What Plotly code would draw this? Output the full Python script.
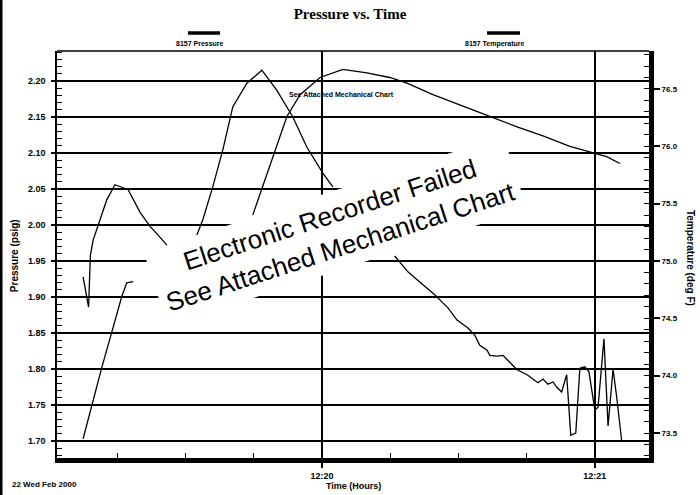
import pandas as pd
import plotly.graph_objects as go

# ---------------- data ----------------
BASE = "2000-02-22 12:19:00"
# seconds after 12:19:00 ; None marks the part hidden under the stamp
pressure_sec = [7.5, 8.7, 9.1, 9.7, 11.2, 12.7, 14.5, 16.0, 17.4, 20.0, 22.2, 23.7, 26.2,
                None,
                32.5, 33.8, 36.0, 38.2, 40.4, 43.5, 46.8, 50.1, 53.6, 56.7, 60.2, 62.4,
                None,
                76.0, 78.9, 81.5, 84.8, 87.7, 89.7, 92.1, 93.6, 94.7, 96.3, 96.9, 98.5,
                99.8, 100.9, 102.9, 105.1, 107.5, 108.6, 109.7, 110.8, 111.6, 112.7,
                113.8, 114.7, 115.8, 116.7, 117.8, 118.7, 120.0, 120.7, 122.0, 122.9,
                124.0, 124.8, 125.9]
pressure_psig = [1.928, 1.886, 1.958, 1.979, 2.007, 2.035, 2.056, 2.052, 2.049, 2.018, 1.998, 1.988, 1.970,
                 None,
                 1.986, 2.007, 2.053, 2.104, 2.164, 2.197, 2.215, 2.187, 2.150, 2.108, 2.072, 2.053,
                 None,
                 1.957, 1.935, 1.921, 1.903, 1.885, 1.868, 1.857, 1.847, 1.833, 1.826, 1.819, 1.818,
                 1.819, 1.812, 1.799, 1.792, 1.781, 1.786, 1.779, 1.782, 1.775, 1.768,
                 1.792, 1.708, 1.711, 1.801, 1.803, 1.796, 1.743, 1.747, 1.842, 1.721,
                 1.800, 1.761, 1.700]

temp_sec = [7.5, 9.5, 11.6, 13.8, 16.0, 17.1, 18.5,
            None,
            44.8, 47.0, 49.2, 52.3, 55.2, 59.6, 64.6, 69.9, 74.9, 78.7, 84.4, 91.9,
            96.9, 102.9, 108.6, 114.5, 119.6, 122.6, 125.5]
temp_degF = [73.45, 73.76, 74.07, 74.38, 74.69, 74.81, 74.82,
             None,
             75.40, 75.65, 75.90, 76.26, 76.45, 76.60, 76.67, 76.64, 76.60, 76.55, 76.45, 76.34,
             76.26, 76.17, 76.09, 76.00, 75.94, 75.91, 75.85]

pressure_ticks = [1.70, 1.75, 1.80, 1.85, 1.90, 1.95, 2.00, 2.05, 2.10, 2.15, 2.20]
temp_ticks = [73.5, 74.0, 74.5, 75.0, 75.5, 76.0, 76.5]
time_ticks = ["2000-02-22 12:20:00", "2000-02-22 12:21:00"]
time_tick_labels = ["12:20", "12:21"]

base = pd.Timestamp(BASE)


def to_time(secs):
    return [None if s is None else base + pd.Timedelta(seconds=s) for s in secs]


# ---------------- figure ----------------
SANS = "Liberation Sans, Arial"
SERIF = "Liberation Serif, Times New Roman"
tickfont = dict(family=SANS, size=9, color="black", weight="bold")

fig = go.Figure()
fig.add_trace(go.Scatter(x=to_time(pressure_sec), y=pressure_psig, mode="lines",
                         name="8157 Pressure", connectgaps=False,
                         line=dict(color="black", width=1.3)))
fig.add_trace(go.Scatter(x=to_time(temp_sec), y=temp_degF, mode="lines",
                         name="8157 Temperature", connectgaps=False, yaxis="y2",
                         line=dict(color="black", width=1.3)))

x_lo = base + pd.Timedelta(seconds=1.76)
x_hi = base + pd.Timedelta(seconds=131.9)

fig.update_layout(
    width=700, height=495,
    margin=dict(l=57, r=51, t=51, b=37),
    paper_bgcolor="white", plot_bgcolor="white",
    showlegend=False,
    title=dict(text="Pressure vs. Time", x=0.5, xref="container", xanchor="center",
               y=1 - 14 / 495, yref="container", yanchor="middle",
               font=dict(family=SERIF, size=15, color="black", weight="bold")),
    xaxis=dict(type="date", range=[x_lo, x_hi],
               tickvals=time_ticks, ticktext=time_tick_labels,
               showgrid=True, gridcolor="black", gridwidth=1.7,
               showline=True, linecolor="black", linewidth=5,
               ticks="outside", ticklen=5, tickwidth=1.5, tickcolor="black",
               tickfont=tickfont, zeroline=False,
               minor=dict(dtick=15000, tick0="2000-02-22 12:20:00", ticks="inside",
                          ticklen=5, tickwidth=1.2, tickcolor="black", showgrid=False)),
    yaxis=dict(range=[1.6764, 2.2417], tickvals=pressure_ticks, tickformat=".2f",
               showgrid=True, gridcolor="black", gridwidth=1.7,
               showline=True, linecolor="black", linewidth=1.5,
               ticks="outside", ticklen=4, tickwidth=1.5, tickcolor="black",
               tickfont=tickfont, zeroline=False, ticklabelstandoff=4,
               minor=dict(dtick=0.01, tick0=1.70, ticks="inside", ticklen=5,
                          tickwidth=1.2, tickcolor="black", showgrid=False)),
    yaxis2=dict(range=[73.282, 76.831], tickvals=temp_ticks, tickformat=".1f",
                overlaying="y", side="right", showgrid=False,
                showline=True, linecolor="black", linewidth=5,
                ticks="outside", ticklen=6, tickwidth=1.5, tickcolor="black",
                tickfont=dict(family=SANS, size=8, color="black", weight="bold"),
                zeroline=False,
                minor=dict(dtick=0.1, tick0=73.5, ticks="inside", ticklen=5,
                           tickwidth=1.2, tickcolor="black", showgrid=False)),
)

# frame top line, scanner border
fig.add_shape(type="line", xref="paper", yref="paper", x0=0, x1=1, y0=1, y1=1,
              line=dict(color="black", width=1.5))
fig.add_shape(type="line", xref="paper", yref="paper", x0=-0.0946, x1=-0.0946,
              y0=-0.095, y1=1.13, line=dict(color="black", width=3))

# legend (line above label)
legend_items = [("8157 Pressure", 0.2213, 0.2753, 0.2416),
                ("8157 Temperature", 0.7264, 0.7821, 0.7399)]
for label, lx0, lx1, tx in legend_items:
    fig.add_shape(type="line", xref="paper", yref="paper", x0=lx0, x1=lx1,
                  y0=1.0442, y1=1.0442, line=dict(color="black", width=3.5))
    fig.add_annotation(text=label, xref="paper", yref="paper", x=tx, y=1.0172,
                       xanchor="center", yanchor="middle", showarrow=False,
                       font=dict(family=SANS, size=7, color="black", weight="bold"))

# axis titles and footer texts
fig.add_annotation(text="Pressure (psig)", xref="paper", yref="paper", x=-0.0726, y=0.496,
                   textangle=-90, showarrow=False, xanchor="center", yanchor="middle",
                   font=dict(family=SANS, size=10, color="black", weight="bold"))
fig.add_annotation(text="Temperature (deg F)", xref="paper", yref="paper", x=1.069, y=0.492,
                   textangle=90, showarrow=False, xanchor="center", yanchor="middle",
                   font=dict(family=SANS, size=10, color="black", weight="bold"))
fig.add_annotation(text="22 Wed Feb 2000", xref="paper", yref="paper", x=-0.0794, y=-0.064,
                   showarrow=False, xanchor="left", yanchor="middle",
                   font=dict(family=SANS, size=8, color="black", weight="bold"))
fig.add_annotation(text="Time (Hours)", xref="paper", yref="paper", x=0.5, y=-0.07,
                   showarrow=False, xanchor="center", yanchor="middle",
                   font=dict(family=SANS, size=9, color="black", weight="bold"))

# small note and the big stamp
fig.add_annotation(text="See Attached Mechanical Chart", xref="paper", yref="paper",
                   x=0.4814, y=0.8943, showarrow=False, xanchor="center", yanchor="middle",
                   font=dict(family=SANS, size=7, color="black", weight="bold"))
fig.add_annotation(text="Electronic Recorder Failed<br>See Attached Mechanical Chart",
                   xref="paper", yref="paper", x=0.4696, y=0.5577, showarrow=False,
                   xanchor="center", yanchor="middle", textangle=-18, align="center",
                   bgcolor="white", borderpad=6,
                   font=dict(family=SANS, size=26, color="black"))

fig.write_html("out.html", config={"displayModeBar": False},
               post_script="document.body.style.margin='0';document.body.style.overflow='hidden';")
